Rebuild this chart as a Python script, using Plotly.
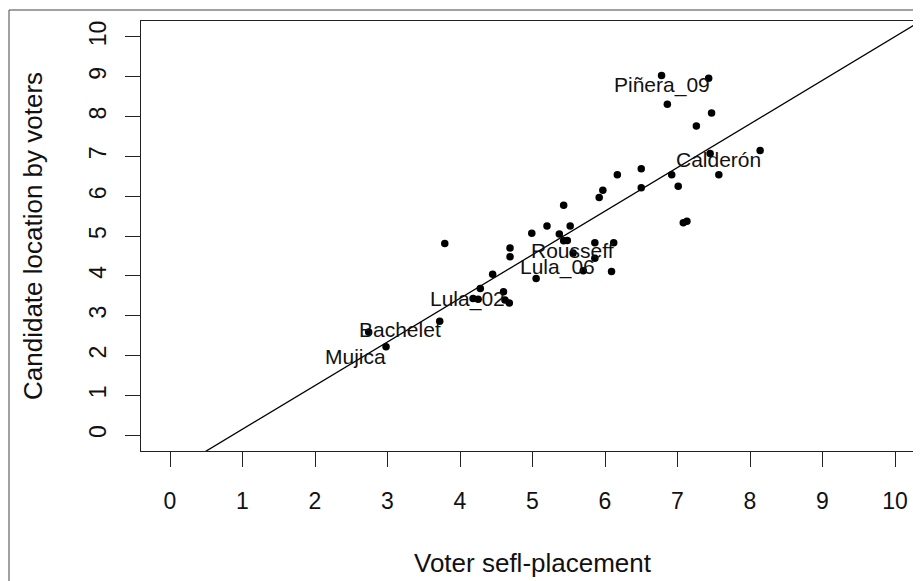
import plotly.graph_objects as go

# Data: (voter self-placement, candidate location by voters)
voter_x = [6.78, 7.43, 6.86, 7.47, 7.26, 8.14, 7.45, 7.57, 6.50, 6.17, 6.92, 7.01,
           6.50, 5.97, 5.92, 5.43, 5.20, 5.52, 7.08, 7.13, 4.99, 5.37, 5.43, 5.48,
           5.86, 6.12, 3.79, 4.69, 4.69, 5.56, 5.86, 5.70, 6.09, 4.45, 5.05, 4.28,
           4.60, 4.18, 4.25, 4.62, 4.68, 3.72, 2.74, 2.98]
cand_y = [9.03, 8.96, 8.31, 8.09, 7.76, 7.15, 7.07, 6.54, 6.69, 6.54, 6.54, 6.25,
          6.21, 6.15, 5.97, 5.77, 5.25, 5.25, 5.33, 5.37, 5.07, 5.05, 4.88, 4.89,
          4.83, 4.83, 4.81, 4.70, 4.48, 4.57, 4.44, 4.13, 4.11, 4.04, 3.93, 3.68,
          3.60, 3.43, 3.41, 3.39, 3.32, 2.86, 2.59, 2.22]

label_text = ["Piñera_09", "Calderón", "Rousseff", "Lula_06", "Lula_02", "Bachelet", "Mujica"]
label_x = [6.78, 7.56, 5.545, 5.35, 4.10, 3.17, 2.56]
label_y = [8.80, 6.93, 4.63, 4.21, 3.41, 2.65, 1.98]

fit_intercept = -0.948
fit_slope = 1.0955

tick_vals = list(range(0, 11))

FONT = "Liberation Sans, Arial, sans-serif"

fig = go.Figure()

line_x = [-0.4, 10.4]
line_y = [fit_intercept + fit_slope * v for v in line_x]
fig.add_trace(go.Scatter(x=line_x, y=line_y, mode="lines",
                         line=dict(color="black", width=1.3), hoverinfo="skip"))

fig.add_trace(go.Scatter(x=voter_x, y=cand_y, mode="markers",
                         marker=dict(color="black", size=7.5, line=dict(width=0))))

for t, lx, ly in zip(label_text, label_x, label_y):
    fig.add_annotation(x=lx, y=ly, text=t, showarrow=False, xanchor="center",
                       yanchor="middle", font=dict(family=FONT, size=21, color="#111"))

# plot area in figure pixels: x 133..916, y 13..443 (page adds an 8px body margin)
PW, PH = 783.0, 430.0

# axis titles
fig.add_annotation(xref="paper", yref="paper", x=0.5, y=-(555 - 443) / PH,
                   text="Voter sefl-placement", showarrow=False,
                   xanchor="center", yanchor="middle",
                   font=dict(family=FONT, size=26, color="#111"))
fig.add_annotation(xref="paper", yref="paper", x=(25 - 133) / PW, y=0.5,
                   text="Candidate location by voters", showarrow=False, textangle=-90,
                   xanchor="center", yanchor="middle",
                   font=dict(family=FONT, size=26, color="#111"))

# outer frame
fig.add_shape(type="rect", xref="paper", yref="paper",
              x0=(1 - 133) / PW, x1=1.2, y0=-0.6, y1=(443 - 2) / PH,
              line=dict(color="#444", width=1), fillcolor="rgba(0,0,0,0)")

fig.update_layout(
    width=921, height=581,
    margin=dict(l=133, r=5, t=13, b=138),
    paper_bgcolor="white", plot_bgcolor="white",
    showlegend=False,
    font=dict(family=FONT, size=21, color="#111"),
    xaxis=dict(range=[-0.4, 10.4], tickvals=tick_vals, ticks="outside", ticklen=15,
               tickwidth=1, tickcolor="#222", showline=True, linecolor="#222", linewidth=1,
               mirror=True, showgrid=False, zeroline=False, ticklabelstandoff=14,
               tickfont=dict(family=FONT, size=23, color="#111")),
    yaxis=dict(range=[-0.4, 10.4], tickvals=tick_vals, ticks="outside", ticklen=15,
               tickwidth=1, tickcolor="#222", showline=True, linecolor="#222", linewidth=1,
               mirror=False, showgrid=False, zeroline=False, tickangle=-90,
               ticklabelstandoff=10,
               tickfont=dict(family=FONT, size=23, color="#111")),
)

fig.write_html(
    "out.html",
    post_script="document.documentElement.style.overflow='hidden';"
                "document.body.style.overflow='hidden';",
)
